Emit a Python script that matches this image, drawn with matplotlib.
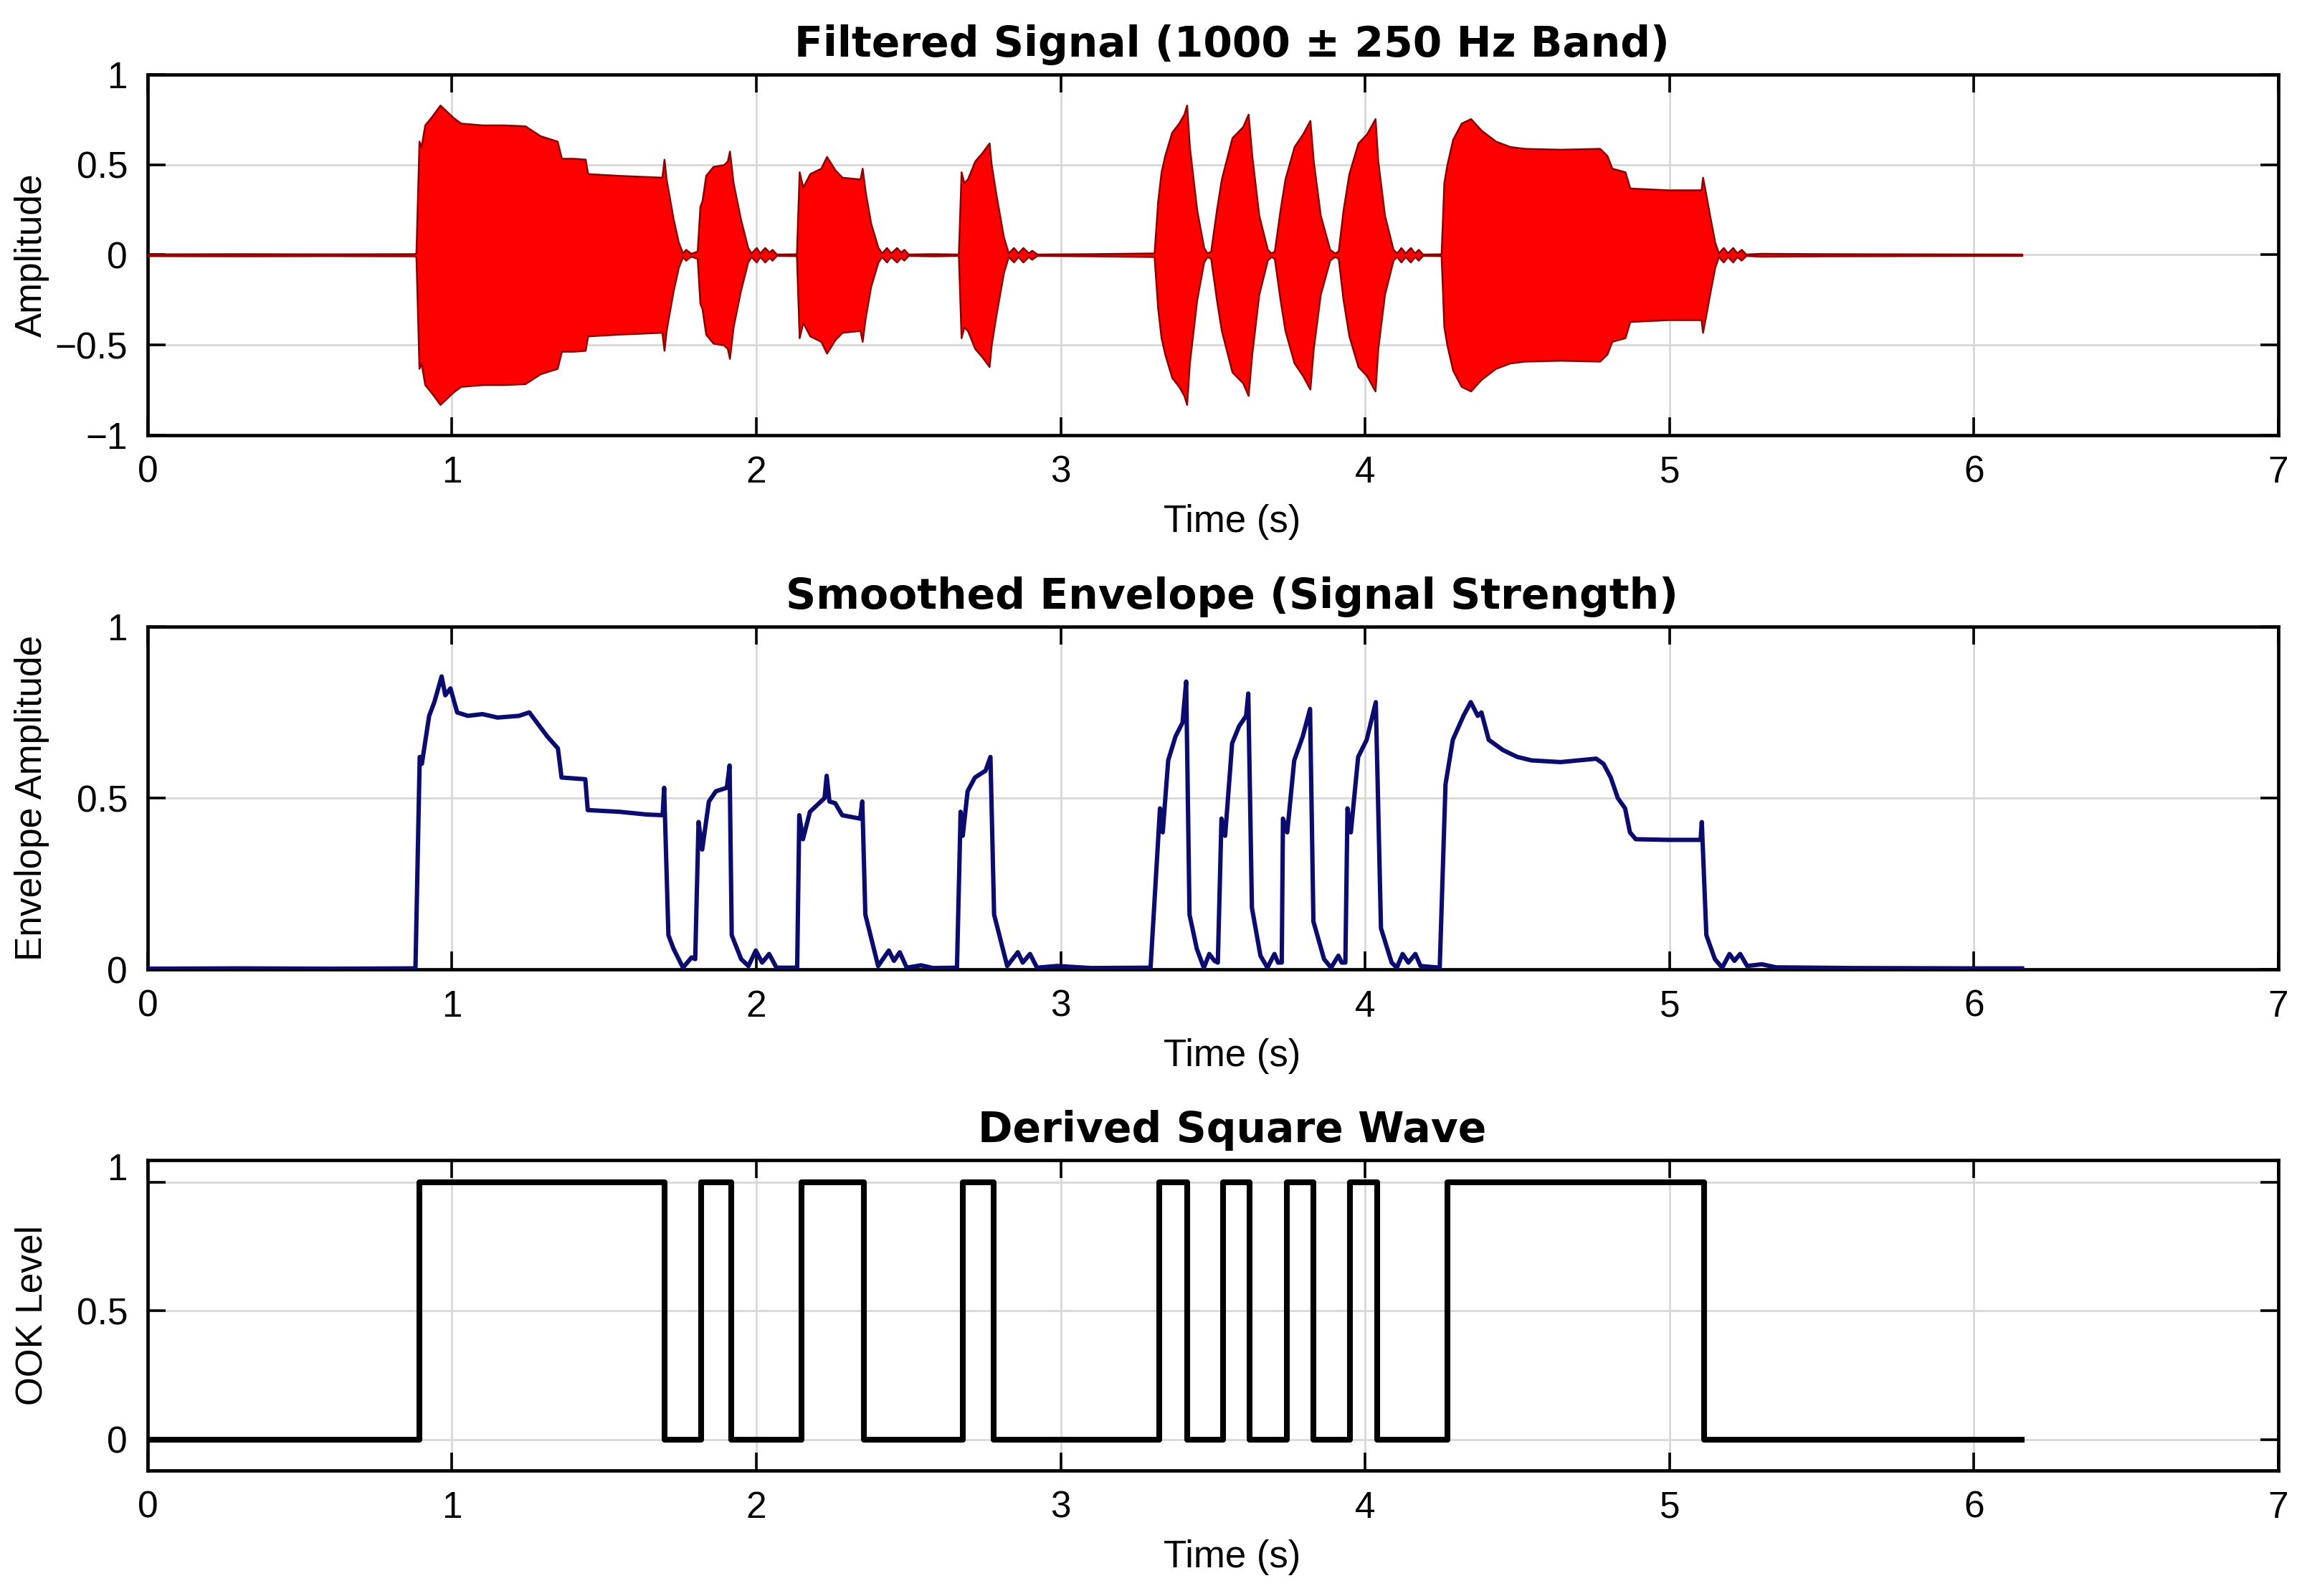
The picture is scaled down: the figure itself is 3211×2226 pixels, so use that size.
import matplotlib
matplotlib.use("Agg")
import matplotlib.pyplot as plt
from matplotlib.transforms import ScaledTranslation

# ---------------- data ----------------
# Filtered signal: upper envelope of the 1000 Hz band-passed carrier (drawn as +/- fill)
filt_t = [0.0, 0.3, 0.6, 0.875, 0.882, 0.892, 0.899, 0.911, 0.935, 0.961, 1.005, 1.029,
          1.10, 1.17, 1.24, 1.29, 1.346, 1.360, 1.40, 1.438, 1.446, 1.55, 1.69, 1.697,
          1.704, 1.727, 1.744, 1.758, 1.768, 1.785, 1.806, 1.815, 1.822, 1.834, 1.858,
          1.893, 1.905, 1.912, 1.924, 1.948, 1.972, 1.983, 2.000, 2.012, 2.028, 2.042,
          2.052, 2.066, 2.132, 2.141, 2.153, 2.176, 2.212, 2.231, 2.259, 2.282, 2.341,
          2.348, 2.358, 2.376, 2.400, 2.412, 2.428, 2.442, 2.461, 2.475, 2.485, 2.499,
          2.58, 2.664, 2.673, 2.682, 2.694, 2.718, 2.741, 2.765, 2.772, 2.788, 2.812,
          2.828, 2.845, 2.860, 2.876, 2.894, 2.905, 2.922, 3.1, 3.307, 3.319, 3.330,
          3.342, 3.365, 3.388, 3.405, 3.414, 3.423, 3.447, 3.470, 3.481, 3.493, 3.512,
          3.528, 3.563, 3.598, 3.616, 3.628, 3.651, 3.679, 3.691, 3.702, 3.721, 3.737,
          3.767, 3.795, 3.819, 3.830, 3.853, 3.884, 3.900, 3.912, 3.928, 3.947, 3.977,
          4.005, 4.033, 4.042, 4.064, 4.092, 4.104, 4.118, 4.132, 4.149, 4.163, 4.175,
          4.189, 4.250, 4.259, 4.269, 4.288, 4.316, 4.347, 4.382, 4.429, 4.476, 4.524,
          4.642, 4.771, 4.795, 4.811, 4.854, 4.870, 4.995, 5.104, 5.109, 5.118, 5.132,
          5.149, 5.161, 5.177, 5.191, 5.208, 5.222, 5.236, 5.251, 5.30, 5.50, 5.80, 6.158]
filt_amp = [0.005, 0.006, 0.005, 0.006, 0.01, 0.63, 0.60, 0.72, 0.77, 0.83, 0.76, 0.73,
            0.72, 0.72, 0.715, 0.66, 0.63, 0.535, 0.535, 0.53, 0.45, 0.44, 0.43, 0.53,
            0.42, 0.20, 0.07, 0.01, 0.03, 0.008, 0.02, 0.27, 0.30, 0.44, 0.49,
            0.50, 0.52, 0.575, 0.40, 0.20, 0.04, 0.01, 0.04, 0.01, 0.04, 0.015,
            0.03, 0.004, 0.005, 0.46, 0.375, 0.45, 0.48, 0.545, 0.47, 0.43, 0.42,
            0.48, 0.35, 0.175, 0.04, 0.01, 0.04, 0.01, 0.04, 0.015, 0.03, 0.004,
            0.006, 0.004, 0.46, 0.40, 0.42, 0.52, 0.565, 0.62, 0.50, 0.33, 0.10,
            0.01, 0.04, 0.01, 0.04, 0.01, 0.025, 0.004, 0.006, 0.01, 0.30, 0.46,
            0.55, 0.68, 0.73, 0.78, 0.83, 0.60, 0.25, 0.04, 0.01, 0.02, 0.25,
            0.42, 0.65, 0.71, 0.78, 0.55, 0.22, 0.03, 0.01, 0.02, 0.25, 0.42,
            0.60, 0.67, 0.745, 0.52, 0.22, 0.03, 0.01, 0.02, 0.25, 0.45, 0.62,
            0.67, 0.755, 0.52, 0.22, 0.03, 0.01, 0.04, 0.01, 0.04, 0.01, 0.03,
            0.004, 0.005, 0.40, 0.50, 0.64, 0.73, 0.755, 0.69, 0.63, 0.60, 0.59,
            0.585, 0.59, 0.55, 0.48, 0.46, 0.37, 0.36, 0.36, 0.43, 0.35, 0.22,
            0.07, 0.01, 0.04, 0.01, 0.04, 0.01, 0.03, 0.004, 0.008, 0.006, 0.005, 0.004]

# Smoothed envelope
env_t = [0.0, 0.3, 0.6, 0.880, 0.894, 0.901, 0.925, 0.942, 0.966, 0.978, 0.995, 1.017,
         1.052, 1.10, 1.15, 1.22, 1.254, 1.313, 1.348, 1.360, 1.438, 1.446, 1.55, 1.64,
         1.692, 1.697, 1.711, 1.728, 1.759, 1.787, 1.799, 1.810, 1.822, 1.844, 1.867,
         1.903, 1.912, 1.919, 1.950, 1.974, 1.998, 2.019, 2.042, 2.066, 2.134, 2.141,
         2.153, 2.176, 2.200, 2.224, 2.231, 2.240, 2.259, 2.282, 2.341, 2.348, 2.358,
         2.400, 2.435, 2.452, 2.471, 2.494, 2.541, 2.58, 2.659, 2.671, 2.678, 2.694,
         2.718, 2.753, 2.769, 2.781, 2.824, 2.859, 2.875, 2.899, 2.922, 2.988, 3.1,
         3.295, 3.326, 3.335, 3.353, 3.377, 3.400, 3.412, 3.423, 3.447, 3.470, 3.488,
         3.505, 3.516, 3.528, 3.540, 3.563, 3.586, 3.609, 3.616, 3.628, 3.656, 3.679,
         3.702, 3.714, 3.726, 3.730, 3.744, 3.767, 3.795, 3.819, 3.830, 3.865, 3.888,
         3.912, 3.923, 3.935, 3.942, 3.953, 3.977, 4.005, 4.035, 4.052, 4.087, 4.104,
         4.123, 4.142, 4.165, 4.182, 4.245, 4.264, 4.288, 4.323, 4.347, 4.370, 4.382,
         4.406, 4.453, 4.500, 4.547, 4.642, 4.759, 4.783, 4.807, 4.830, 4.854, 4.870,
         4.889, 4.995, 5.102, 5.106, 5.121, 5.149, 5.173, 5.197, 5.213, 5.232, 5.255,
         5.303, 5.35, 5.6, 6.0, 6.158]
env_val = [0.002, 0.003, 0.002, 0.003, 0.62, 0.60, 0.74, 0.78, 0.855, 0.80, 0.82, 0.75,
           0.74, 0.745, 0.735, 0.74, 0.75, 0.68, 0.645, 0.56, 0.555, 0.465, 0.46, 0.452,
           0.45, 0.53, 0.10, 0.06, 0.005, 0.035, 0.03, 0.43, 0.35, 0.49, 0.52,
           0.53, 0.595, 0.10, 0.03, 0.01, 0.055, 0.02, 0.045, 0.005, 0.005, 0.45,
           0.38, 0.46, 0.48, 0.50, 0.565, 0.49, 0.485, 0.45, 0.44, 0.49, 0.16,
           0.01, 0.055, 0.025, 0.05, 0.005, 0.012, 0.004, 0.005, 0.46, 0.39, 0.52,
           0.56, 0.58, 0.62, 0.16, 0.01, 0.05, 0.02, 0.045, 0.005, 0.01, 0.004,
           0.005, 0.47, 0.40, 0.61, 0.68, 0.72, 0.84, 0.16, 0.06, 0.005, 0.045,
           0.025, 0.02, 0.44, 0.39, 0.66, 0.71, 0.74, 0.805, 0.18, 0.04, 0.005,
           0.045, 0.02, 0.02, 0.44, 0.40, 0.61, 0.68, 0.76, 0.14, 0.03, 0.005,
           0.04, 0.02, 0.02, 0.47, 0.40, 0.62, 0.67, 0.78, 0.12, 0.02, 0.005,
           0.045, 0.02, 0.045, 0.01, 0.005, 0.54, 0.67, 0.74, 0.78, 0.74, 0.75,
           0.67, 0.64, 0.62, 0.61, 0.605, 0.615, 0.60, 0.56, 0.50, 0.47, 0.40,
           0.38, 0.378, 0.378, 0.43, 0.10, 0.03, 0.005, 0.045, 0.025, 0.045, 0.01,
           0.015, 0.006, 0.004, 0.003, 0.003]

# Derived square wave: switching instants and the level held after each
sq_t = [0.0, 0.892, 1.699, 1.818, 1.918, 2.148, 2.353, 2.678, 2.779, 3.323, 3.416,
        3.533, 3.621, 3.742, 3.830, 3.951, 4.040, 4.271, 5.113, 6.158]
sq_level = [0, 1, 0, 1, 0, 1, 0, 1, 0, 1, 0, 1, 0, 1, 0, 1, 0, 1, 0, 0]

titles = ["Filtered Signal (1000 \u00b1 250 Hz Band)",
          "Smoothed Envelope (Signal Strength)",
          "Derived Square Wave"]
ylabels = ["Amplitude", "Envelope Amplitude", "OOK Level"]
xticks = [0, 1, 2, 3, 4, 5, 6, 7]
yticks = [[-1, -0.5, 0, 0.5, 1], [0, 0.5, 1], [0, 0.5, 1]]
yticklabels = [["\u22121", "\u22120.5", "0", "0.5", "1"], ["0", "0.5", "1"], ["0", "0.5", "1"]]

# ---------------- figure ----------------
plt.rcParams['font.family'] = ['Liberation Sans', 'DejaVu Sans']
fig = plt.figure(figsize=(16.06, 11.13), dpi=200)
left, width = 0.0641, 0.9253
ax1 = fig.add_axes([left, 0.7273, width, 0.2260])
ax2 = fig.add_axes([left, 0.3926, width, 0.2147])
ax3 = fig.add_axes([left, 0.0786, width, 0.1945])
axes = [ax1, ax2, ax3]

neg = [-a for a in filt_amp]
ax1.fill_between(filt_t, neg, filt_amp, facecolor='#ff0000', edgecolor='#8b0000',
                 linewidth=0.9, zorder=3)
ax2.plot(env_t, env_val, color='#0b0c6e', linewidth=2.2, zorder=3)
ax3.step(sq_t, sq_level, where='post', color='black', linewidth=2.9, zorder=3)

ax1.set_ylim(-1, 1)
ax2.set_ylim(0, 1)
ax3.set_ylim(-0.12, 1.086)

for i, ax in enumerate(axes):
    ax.set_xlim(0, 7)
    ax.set_xticks(xticks)
    ax.set_xticklabels([str(v) for v in xticks])
    ax.set_yticks(yticks[i])
    ax.set_yticklabels(yticklabels[i])
    ax.tick_params(direction='in', top=True, right=True, length=9, width=1.3,
                   labelsize=18.5, pad=10, colors='black')
    ax.grid(True, color='#d8d8d8', linewidth=1.0)
    ax.set_axisbelow(True)
    for s in ax.spines.values():
        s.set_linewidth(1.7)
        s.set_color('black')
    ax.set_title(titles[i], fontsize=21, fontweight='bold', family='DejaVu Sans',
                 x=0.509, pad=9)
    ax.set_xlabel("Time (s)", fontsize=19, labelpad=7)
    ax.xaxis.label.set_x(0.509)
    ax.set_ylabel(ylabels[i], fontsize=18.5)
    ax.yaxis.set_label_coords(-0.046, 0.5)

# the "1" label of the square-wave panel sits a little above its tick in the reference
lbl = ax3.get_yticklabels()[-1]
lbl.set_transform(lbl.get_transform() + ScaledTranslation(0, 8 / 72, fig.dpi_scale_trans))

fig.savefig("out.png", dpi=200, facecolor='white')
